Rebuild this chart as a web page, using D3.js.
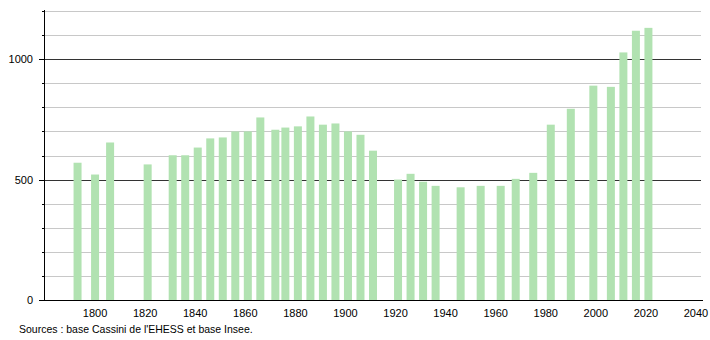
<!DOCTYPE html>
<html>
<head>
<meta charset="utf-8">
<script src="https://cdn.jsdelivr.net/npm/d3@7"></script>
<style>
  body { margin: 0; background: #fff; }
  text { font-family: "Liberation Sans", Arial, sans-serif; }
</style>
</head>
<body>
<svg width="710" height="340"></svg>
<script>
// census years and population
var years = [1793, 1800, 1806, 1821, 1831, 1836, 1841, 1846, 1851, 1856, 1861, 1866, 1872, 1876,
  1881, 1886, 1891, 1896, 1901, 1906, 1911, 1921, 1926, 1931, 1936, 1946, 1954, 1962, 1968,
  1975, 1982, 1990, 1999, 2006, 2011, 2016, 2021];
var population = [570, 521, 654, 563, 601, 601, 633, 671, 675, 700, 700, 758, 707, 716,
  721, 762, 728, 733, 700, 686, 620, 500, 524, 491, 474, 468, 474, 474, 503,
  528, 728, 794, 890, 885, 1028, 1118, 1130];
var xTicks = [1800, 1820, 1840, 1860, 1880, 1900, 1920, 1940, 1960, 1980, 2000, 2020, 2040];
var yLabels = [0, 500, 1000];
var sourceText = "Sources : base Cassini de l'EHESS et base Insee.";

var svg = d3.select("svg");

var x = d3.scaleLinear().domain([1780, 2040]).range([45, 696]);
var y = d3.scaleLinear().domain([0, 1200]).range([300, 11]);

// gridlines every 100
var grid = d3.range(100, 1201, 100);
svg.append("g")
  .selectAll("line")
  .data(grid)
  .enter()
  .append("line")
    .attr("x1", 44)
    .attr("x2", 701)
    .attr("y1", function(d){ return Math.round(y(d)) + 0.5 })
    .attr("y2", function(d){ return Math.round(y(d)) + 0.5 })
    .attr("stroke", function(d){ return d % 500 == 0 ? "#333" : "#c8c8c8" })
    .attr("stroke-width", 1)

// bars
var barW = 8;
svg.append("g")
  .selectAll("rect")
  .data(years)
  .enter()
  .append("rect")
    .attr("x", function(d){ return x(d) - barW/2 })
    .attr("y", function(d, i){ return y(population[i]) })
    .attr("width", barW)
    .attr("height", function(d, i){ return 300 - y(population[i]) })
    .attr("fill", "#b1e2b1")

// y axis line + ticks
svg.append("line")
  .attr("x1", 44.5).attr("x2", 44.5)
  .attr("y1", 10).attr("y2", 300)
  .attr("stroke", "#000")

svg.append("g")
  .selectAll("line")
  .data(d3.range(0, 1201, 100))
  .enter()
  .append("line")
    .attr("x1", function(d){ return d % 500 == 0 ? 39 : 42 })
    .attr("x2", 44)
    .attr("y1", function(d){ return Math.round(y(d)) + 0.5 })
    .attr("y2", function(d){ return Math.round(y(d)) + 0.5 })
    .attr("stroke", "#000")

// x axis line
svg.append("line")
  .attr("x1", 39).attr("x2", 703)
  .attr("y1", 300.5).attr("y2", 300.5)
  .attr("stroke", "#000")

// y labels
svg.append("g")
  .selectAll("text")
  .data(yLabels)
  .enter()
  .append("text")
    .attr("x", 33)
    .attr("y", function(d){ return y(d) + 4 })
    .attr("text-anchor", "end")
    .style("font-size", "11px")
    .text(function(d){ return d })

// x labels
svg.append("g")
  .selectAll("text")
  .data(xTicks)
  .enter()
  .append("text")
    .attr("x", function(d){ return x(d) })
    .attr("y", 317)
    .attr("text-anchor", "middle")
    .style("font-size", "11px")
    .text(function(d){ return d })

svg.append("text")
  .attr("x", 19)
  .attr("y", 333)
  .style("font-size", "10.5px")
  .text(sourceText)
</script>
</body>
</html>
